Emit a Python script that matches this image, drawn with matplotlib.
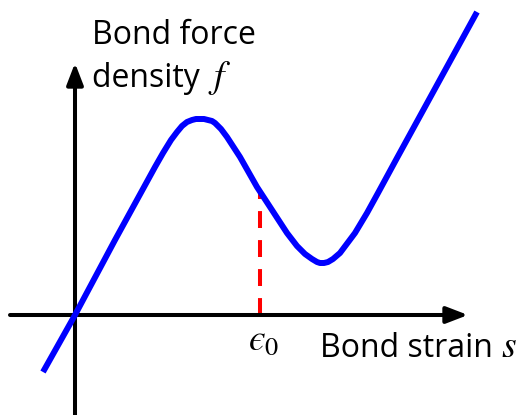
import numpy as np
import matplotlib
matplotlib.use("Agg")
import matplotlib.pyplot as plt

plt.rcParams["font.family"] = ["Open Sans", "DejaVu Sans"]
plt.rcParams["mathtext.fontset"] = "stix"

# bond force density f against bond strain s (schematic units)
strain = [-32, 0, 40, 80, 88, 96, 102, 107, 112, 117, 121, 125, 129, 133,
          137, 140, 146, 152, 165, 182, 212, 222, 230, 237, 242, 245, 249,
          253, 258, 265, 280, 292, 303, 322, 402]
force = [-57, 0, 75, 148, 162, 175, 183, 189, 193, 195, 196, 196, 196, 195,
         194, 192, 186, 178, 158, 128, 82, 69, 61, 56, 53, 52, 52, 53, 56,
         62, 82, 102, 122, 157, 303]
eps0 = 185

x_label = "Bond strain "
y_label = ["Bond force", "density "]

fig = plt.figure(figsize=(5.21, 4.15), dpi=100)
ax = fig.add_axes([0, 0, 1, 1])
ax.set_xlim(-75, 446)
ax.set_ylim(-100, 315)
ax.axis("off")

# axes arrows
arrow = dict(arrowstyle="-|>,head_length=1.3,head_width=0.5", lw=2.9,
             color="black", mutation_scale=10, shrinkA=0, shrinkB=0)
ax.annotate("", xy=(393, 0), xytext=(-65, 0), arrowprops=arrow)
ax.annotate("", xy=(0, 252), xytext=(0, -100), arrowprops=arrow)

# curve
ax.plot(strain, force, color="#0000ff", lw=4.3, solid_joinstyle="round",
        solid_capstyle="butt", zorder=3)

# dashed marker at eps0
f_eps = np.interp(eps0, strain, force)
ax.plot([eps0, eps0], [0, f_eps], color="#ff0000", lw=2.9,
        dashes=(4.2, 3.0), zorder=2)

fs = 23
mfs = 27
renderer = fig.canvas.get_renderer()


def label_with_symbol(x, y, word, sym):
    t = ax.text(x, y, word, fontsize=fs, ha="left", va="baseline")
    bb = t.get_window_extent(renderer).transformed(ax.transData.inverted())
    ax.text(bb.x1, y, sym, fontsize=mfs, ha="left", va="baseline")


ax.text(17, 271, y_label[0], fontsize=fs, ha="left", va="baseline")
label_with_symbol(17, 228, y_label[1], r"$f$")
label_with_symbol(245, -42, x_label, r"$s$")
ax.text(eps0 - 12, -35, "$\u03f5_0$", fontsize=mfs, ha="left", va="baseline")

fig.savefig("out.png", dpi=100, facecolor="white")
